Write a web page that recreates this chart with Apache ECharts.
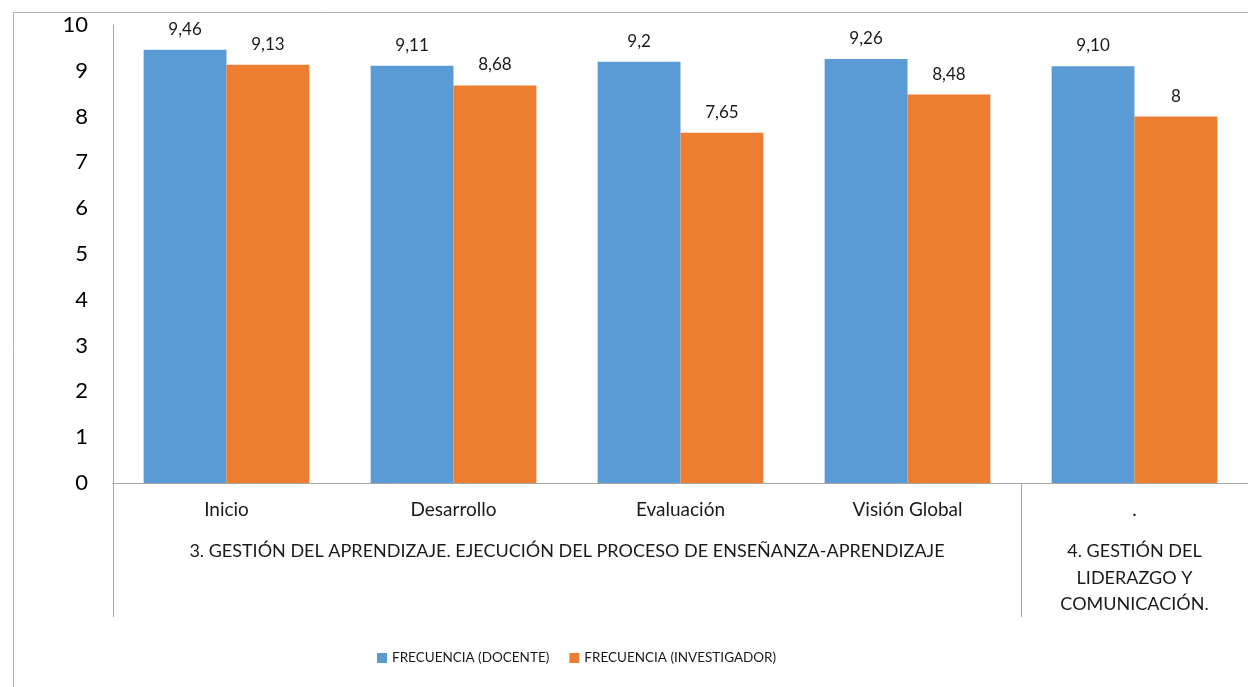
<!DOCTYPE html>
<html>
<head>
<meta charset="utf-8">
<script src="https://cdn.jsdelivr.net/npm/echarts@6/dist/echarts.min.js"></script>
<style>html,body{margin:0;padding:0;background:#fff;}#c{width:1248px;height:687px;}</style>
</head>
<body>
<div id="c"></div>
<script>
const categories = ['Inicio', 'Desarrollo', 'Evaluación', 'Visión Global', '.'];
const groupLabels = ['3. GESTIÓN DEL APRENDIZAJE. EJECUCIÓN DEL PROCESO DE ENSEÑANZA-APRENDIZAJE', '4. GESTIÓN DEL\nLIDERAZGO Y\nCOMUNICACIÓN.'];
const groupSpans = [4, 1];
const seriesNames = ['FRECUENCIA (DOCENTE)', 'FRECUENCIA (INVESTIGADOR)'];
const docente = [9.46, 9.11, 9.2, 9.26, 9.10];
const investigador = [9.13, 8.68, 7.65, 8.48, 8];
const docenteLabels = ['9,46', '9,11', '9,2', '9,26', '9,10'];
const investigadorLabels = ['9,13', '8,68', '7,65', '8,48', '8'];
const yTicks = [0, 10, 1];

// group boundaries and centers on a 0..N scale
const bounds = [0];
groupSpans.forEach(s => bounds.push(bounds[bounds.length - 1] + s));
const centers = groupSpans.map((s, i) => bounds[i] + s / 2);

const axisGray = '#a6a6a6';
const font = 'Lato, "Open Sans", sans-serif';

const chart = echarts.init(document.getElementById('c'));
chart.setOption({
  animation: false,
  textStyle: { fontFamily: font },
  graphic: [{
    type: 'rect', left: 11, top: 10, z: -1,
    shape: { width: 1400, height: 900 },
    style: { fill: 'none', stroke: '#b0b0b0', lineWidth: 1 }
  }],
  grid: { left: 113, top: 25, width: 1137, height: 458 },
  legend: {
    left: 377, top: 651, padding: 0,
    itemWidth: 10, itemHeight: 10, itemGap: 20,
    icon: 'rect',
    textStyle: { fontFamily: font, fontSize: 13.5, color: '#1a1a1a' },
    data: seriesNames
  },
  xAxis: [{
    type: 'category',
    data: categories,
    axisLine: { show: true, lineStyle: { color: axisGray } },
    axisTick: { show: false },
    axisLabel: { fontFamily: font, fontSize: 19, color: '#1a1a1a', margin: 15, lineHeight: 24 }
  }, {
    type: 'value',
    min: 0, max: bounds[bounds.length - 1],
    position: 'bottom',
    splitLine: { show: false },
    axisLine: { show: false },
    axisTick: { show: true, customValues: bounds.slice(0, -1), length: 134, lineStyle: { color: axisGray } },
    axisLabel: {
      customValues: centers,
      formatter: v => {
        const i = centers.findIndex(c => Math.abs(c - v) < 1e-6);
        return i >= 0 ? groupLabels[i] : '';
      },
      fontFamily: font, fontSize: 18, color: '#1a1a1a', margin: 55, lineHeight: 26.5, align: 'center'
    }
  }],
  yAxis: {
    type: 'value', min: yTicks[0], max: yTicks[1], interval: yTicks[2],
    splitLine: { show: false },
    axisLine: { show: true, lineStyle: { color: axisGray } },
    axisTick: { show: false },
    axisLabel: { fontFamily: font, fontSize: 22, color: '#000', margin: 25 }
  },
  series: [{
    name: seriesNames[0], type: 'bar', data: docente,
    itemStyle: { color: '#5B9BD5' },
    barGap: '0%', barCategoryGap: '27%',
    label: { show: true, position: 'top', distance: 12, fontFamily: font, fontSize: 17, color: '#1a1a1a',
      formatter: p => docenteLabels[p.dataIndex] }
  }, {
    name: seriesNames[1], type: 'bar', data: investigador,
    itemStyle: { color: '#ED7D31' },
    barGap: '0%', barCategoryGap: '27%',
    label: { show: true, position: 'top', distance: 12, fontFamily: font, fontSize: 17, color: '#1a1a1a',
      formatter: p => investigadorLabels[p.dataIndex] }
  }]
});
</script>
</body>
</html>
